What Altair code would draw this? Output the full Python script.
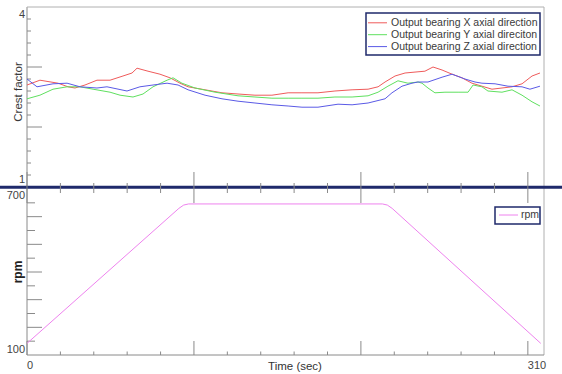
import altair as alt
import pandas as pd

# Crest factor traces (time in s, crest factor)
x_time = [0, 8.0, 19.2, 25.4, 29.7, 35.9, 43.3, 51.4, 59.4, 65.0, 68.1, 74.9, 82.3, 88.5, 94.7,
          99.7, 110.2, 120.7, 130.6, 141.1, 151.6, 161.6, 170.2, 180.1, 190.6, 201.2, 211.1,
          217.3, 221.6, 227.8, 234.0, 242.0, 246.3, 251.3, 256.9, 263.1, 269.2, 275.4, 281.6,
          287.8, 294.0, 300.2, 306.4, 312.6, 317.5]
x_crest = [2.70, 2.78, 2.73, 2.67, 2.65, 2.70, 2.78, 2.78, 2.85, 2.90, 2.98, 2.93, 2.88, 2.82, 2.73,
           2.67, 2.62, 2.57, 2.55, 2.53, 2.53, 2.57, 2.57, 2.57, 2.60, 2.62, 2.63,
           2.67, 2.75, 2.85, 2.90, 2.92, 2.93, 3.00, 2.95, 2.88, 2.82, 2.73, 2.68,
           2.63, 2.65, 2.67, 2.72, 2.85, 2.90]

y_time = [0, 8.0, 16.1, 24.8, 32.8, 40.9, 51.4, 57.6, 65.6, 71.8, 78.0, 86.7, 90.4, 95.9, 104.0,
          116.4, 130.6, 141.1, 151.6, 161.6, 170.2, 180.1, 190.6, 201.2, 211.1, 217.3, 223.4,
          229.6, 235.8, 242.0, 244.5, 248.2, 252.5, 258.7, 266.8, 273.0, 276.1, 281.6, 285.3,
          294.0, 300.2, 306.4, 312.6, 317.5]
y_crest = [2.47, 2.53, 2.63, 2.67, 2.67, 2.63, 2.58, 2.53, 2.50, 2.55, 2.67, 2.78, 2.82, 2.73, 2.65,
           2.58, 2.52, 2.50, 2.48, 2.48, 2.48, 2.48, 2.50, 2.50, 2.52, 2.58, 2.68,
           2.77, 2.73, 2.75, 2.73, 2.65, 2.57, 2.58, 2.58, 2.58, 2.70, 2.67, 2.60,
           2.58, 2.62, 2.53, 2.42, 2.35]

z_time = [0, 6.2, 16.1, 24.8, 32.8, 43.3, 49.5, 61.9, 69.9, 78.0, 86.7, 93.5, 99.7, 110.2, 120.7,
          130.6, 141.1, 151.6, 161.6, 170.2, 180.1, 192.5, 201.2, 211.1, 221.6, 225.9, 232.1,
          238.3, 242.0, 248.2, 256.9, 263.1, 271.1, 277.3, 281.6, 289.7, 297.7, 306.4, 311.3, 317.5]
z_crest = [2.80, 2.67, 2.72, 2.73, 2.67, 2.65, 2.67, 2.60, 2.67, 2.70, 2.73, 2.70, 2.62, 2.53, 2.47,
           2.43, 2.40, 2.37, 2.35, 2.33, 2.33, 2.38, 2.37, 2.40, 2.47, 2.57, 2.68,
           2.73, 2.75, 2.75, 2.83, 2.88, 2.80, 2.75, 2.73, 2.72, 2.68, 2.67, 2.63, 2.68]

series_names = ["Output bearing X axial direction",
                "Output bearing Y axial direciton",
                "Output bearing Z axial direction"]
series_colors = ["#ef5b5b", "#5fe05f", "#5a5ae6"]

# Shaft speed profile
rpm_time = [0, 94, 97, 100, 220, 223, 226, 318]
rpm_value = [142, 630, 642, 646, 646, 642, 630, 142]
rpm_color = "#ee82ee"

# Axis ticks and labels
x_major_ticks = [0, 103.33, 206.67, 310]
x_minor_ticks = [20.67, 41.33, 62, 82.67, 124, 144.67, 165.33, 186, 227.33, 248, 268.67, 289.33]
x_tick_labels = [0, 310]
cf_major_ticks = [2, 3]
cf_minor_ticks = [1.2, 1.4, 1.6, 1.8, 2.2, 2.4, 2.6, 2.8, 3.2, 3.4, 3.6, 3.8]
rpm_major_ticks = [200, 300, 400, 500, 600]
rpm_minor_ticks = [150, 250, 350, 450, 550, 650]

W, H = 517, 348
FONT = "Liberation Sans"
GRID = "#8a8a8a"
NAVY = "#1f2a6b"

xs = alt.Scale(domain=[0, 320], nice=False, zero=False)
cf_scale = alt.Scale(domain=[1, 4], range=[180, 0], nice=False, zero=False)
rpm_scale = alt.Scale(domain=[100, 700], range=[348, 182], nice=False, zero=False)

crest_df = pd.concat([
    pd.DataFrame({"t": t, "v": v, "series": name})
    for t, v, name in zip([x_time, y_time, z_time], [x_crest, y_crest, z_crest], series_names)
])
rpm_df = pd.DataFrame({"t": rpm_time, "rpm": rpm_value})


def vals(values, col="v"):
    return alt.Chart(pd.DataFrame({col: values}))


def pix_rule(x, x2, y, y2, color=GRID, width=1.0):
    return alt.Chart(pd.DataFrame({"k": [0]})).mark_rule(color=color, strokeWidth=width).encode(
        x=alt.value(x), x2=alt.value(x2), y=alt.value(y), y2=alt.value(y2))


def pix_text(text, x, y, **kw):
    opts = dict(font=FONT, fontSize=11, color="#444444")
    opts.update(kw)
    return alt.Chart(pd.DataFrame({"k": [0]})).mark_text(**opts).encode(
        x=alt.value(x), y=alt.value(y), text=alt.value(text))


layers = []

# frame
layers.append(pix_rule(0, 0, 0, H))
layers.append(pix_rule(0, W, 0, 0, color="#b0b0b0"))
layers.append(pix_rule(W, W, 0, H, color="#b0b0b0"))
layers.append(pix_rule(0, W, H, H))

# separator between the two panels
layers.append(pix_rule(-27, 535, 180.3, 180.3, color=NAVY, width=3))

# x ticks at the separator and along the bottom axis
xt = alt.X("t:Q", scale=xs, axis=None)
layers.append(vals(x_minor_ticks, "t").mark_rule(color=GRID).encode(x=xt, y=alt.value(176), y2=alt.value(186)))
layers.append(vals(x_major_ticks, "t").mark_rule(color=GRID).encode(x=xt, y=alt.value(165), y2=alt.value(196)))
layers.append(vals(x_minor_ticks, "t").mark_rule(color=GRID).encode(x=xt, y=alt.value(344.5), y2=alt.value(348)))
layers.append(vals(x_major_ticks, "t").mark_rule(color=GRID).encode(x=xt, y=alt.value(334), y2=alt.value(348)))

# y ticks
layers.append(vals(cf_minor_ticks).mark_rule(color=GRID).encode(
    y=alt.Y("v:Q", scale=cf_scale, axis=None), x=alt.value(0), x2=alt.value(4)))
layers.append(vals(cf_major_ticks).mark_rule(color=GRID).encode(
    y=alt.Y("v:Q", scale=cf_scale, axis=None), x=alt.value(0), x2=alt.value(15)))
layers.append(vals(rpm_minor_ticks).mark_rule(color=GRID).encode(
    y=alt.Y("v:Q", scale=rpm_scale, axis=None), x=alt.value(0), x2=alt.value(8)))
layers.append(vals(rpm_major_ticks).mark_rule(color=GRID).encode(
    y=alt.Y("v:Q", scale=rpm_scale, axis=None), x=alt.value(0), x2=alt.value(15)))

# crest factor traces
layers.append(alt.Chart(crest_df).mark_line(strokeWidth=1).encode(
    x=alt.X("t:Q", scale=xs, axis=None),
    y=alt.Y("v:Q", scale=cf_scale, axis=None),
    color=alt.Color("series:N", scale=alt.Scale(domain=series_names, range=series_colors), legend=None),
    detail="series:N",
))

# speed profile
layers.append(alt.Chart(rpm_df).mark_line(strokeWidth=1, color=rpm_color).encode(
    x=alt.X("t:Q", scale=xs, axis=None),
    y=alt.Y("rpm:Q", scale=rpm_scale, axis=None),
))

# legend of the crest factor panel
layers.append(alt.Chart(pd.DataFrame({"k": [0]})).mark_rect(
    fill="white", stroke=NAVY, strokeWidth=1.5).encode(
    x=alt.value(339), x2=alt.value(513), y=alt.value(6), y2=alt.value(48)))
for i, (name, col) in enumerate(zip(series_names, series_colors)):
    yy = 15.8 + 11.9 * i
    layers.append(pix_rule(341, 360, yy, yy, color=col))
    layers.append(pix_text(name, 364, yy, align="left", baseline="middle", fontSize=10.5, color="#3a3a3a"))

# legend of the speed panel
layers.append(alt.Chart(pd.DataFrame({"k": [0]})).mark_rect(
    fill="white", stroke=NAVY, strokeWidth=1.5).encode(
    x=alt.value(468), x2=alt.value(513), y=alt.value(200), y2=alt.value(217)))
layers.append(pix_rule(472, 491, 208, 208, color=rpm_color))
layers.append(pix_text("rpm", 494, 208, align="left", baseline="middle", fontSize=10.5, color="#3a3a3a"))

# tick labels
label_style = dict(font=FONT, fontSize=11, color="#444444", align="right", baseline="middle")
layers.append(vals([4]).mark_text(dy=8, **label_style).encode(
    y=alt.Y("v:Q", scale=cf_scale, axis=None), x=alt.value(-2), text=alt.Text("v:Q")))
layers.append(vals([1]).mark_text(dy=-7, **label_style).encode(
    y=alt.Y("v:Q", scale=cf_scale, axis=None), x=alt.value(-2), text=alt.Text("v:Q")))
layers.append(vals([700]).mark_text(dy=7, **label_style).encode(
    y=alt.Y("v:Q", scale=rpm_scale, axis=None), x=alt.value(-2), text=alt.Text("v:Q")))
layers.append(vals([100]).mark_text(dy=-5, **label_style).encode(
    y=alt.Y("v:Q", scale=rpm_scale, axis=None), x=alt.value(-2), text=alt.Text("v:Q")))
layers.append(vals(x_tick_labels, "t").mark_text(
    font=FONT, fontSize=11, color="#444444", align="left", baseline="middle").encode(
    x=alt.X("t:Q", scale=xs, axis=None), y=alt.value(359), text=alt.Text("t:Q")))

# axis titles
layers.append(pix_text("Crest factor", -8, 85, angle=270, align="center", baseline="middle",
                       fontSize=11.5, color="#3a3a3a"))
layers.append(pix_text("rpm", -9, 265, angle=270, align="center", baseline="middle",
                       fontSize=12, fontWeight="bold", color="#222222"))
layers.append(pix_text("Time (sec)", 268, 360, align="center", baseline="middle",
                       fontSize=11.5, color="#333333"))

chart = alt.layer(*layers).resolve_scale(y="independent", color="independent").properties(
    width=W, height=H,
    autosize=alt.AutoSizeParams(type="none"),
    padding={"left": 27, "top": 7, "right": 18, "bottom": 19},
    background="white",
).configure_view(strokeWidth=0)

chart.save("out.html", embed_options={"renderer": "svg", "actions": False})
